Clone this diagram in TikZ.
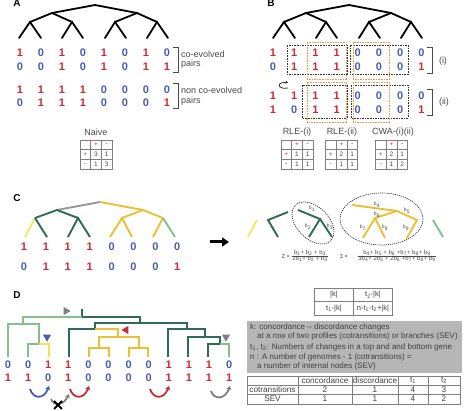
\documentclass[tikz,border=0pt]{standalone}
\usepackage{fontspec}
\setmainfont{Liberation Sans}
\usetikzlibrary{arrows.meta,shapes.geometric}

\definecolor{onered}{RGB}{208,42,52}
\definecolor{zeroblue}{RGB}{72,92,178}
\definecolor{darkgreen}{RGB}{46,108,88}
\definecolor{lightgreen}{RGB}{130,192,140}
\definecolor{treeyellow}{RGB}{234,192,52}
\definecolor{paleyellow}{RGB}{242,234,92}
\definecolor{boxorange}{RGB}{234,150,62}
\definecolor{notegray}{RGB}{182,182,182}
\definecolor{textgray}{RGB}{75,75,75}

% a 1 in red, a 0 in blue
\newcommand{\onezero}[1]{\ifnum#1=1 \textcolor{onered}{1}\else\textcolor{zeroblue}{0}\fi}
\newcommand{\redplus}{\textcolor{onered}{+}}
% one row of a profile: prefix, first x, step, y, values
\newcommand{\profilerow}[5]{%
  \foreach \v [count=\i] in {#5}
    \node[digit] (#1\i) at ({#2+(\i-1)*#3},#4) {\onezero{\v}};}
% table of signs: name, centre x, centre y, ++, +-, -+, --
\newcommand{\signtab}[7]{%
  \foreach \row/\col/\txt in {0/0/{},0/1/\redplus,0/2/-,1/0/\redplus,1/1/#4,1/2/#5,2/0/-,2/1/#6,2/2/#7}
    \node[cell] (#1\row\col) at ({#2+(\col-1)*10.7},{#3+(\row-1)*9.7}) {\txt};}

\begin{document}
\begin{tikzpicture}[x=1pt,y=-1pt,
  digit/.style={font=\fontsize{11}{11}\selectfont\bfseries,inner sep=0pt},
  note/.style={font=\fontsize{9}{9}\selectfont,text=textgray,inner sep=0pt},
  panel/.style={font=\fontsize{10}{10}\selectfont\bfseries,inner sep=0pt},
  blackbranch/.style={line width=1.8pt,line cap=round},
  branch/.style={line width=1.9pt},
  bracket/.style={line width=0.8pt,textgray},
  cell/.style={draw=gray,line width=0.6pt,minimum width=10.7pt,minimum height=9.7pt,
    inner sep=0pt,outer sep=0pt,font=\fontsize{6.5}{6.5}\selectfont,text=textgray},
  pairbox/.style={dash pattern=on 1.6pt off 1pt,line width=0.9pt},
  bname/.style={font=\fontsize{5}{5}\selectfont,text=textgray,inner sep=0pt},
  formula/.style={font=\fontsize{6}{6.5}\selectfont,text=textgray,inner sep=0pt},
  changemark/.style={isosceles triangle,isosceles triangle apex angle=60,inner sep=0pt,
    minimum height=7pt,draw=none},
  curl/.style={line width=1.8pt,-{Stealth[length=4pt,width=5pt]}},
  boxtext/.style={font=\fontsize{8}{8}\selectfont,text=black!75,anchor=west,inner sep=0pt},
  tabtext/.style={font=\fontsize{8.2}{8.2}\selectfont,text=black!75,inner sep=0pt},
  kcell/.style={draw=gray,line width=0.6pt,minimum width=39pt,minimum height=13.5pt,
    inner sep=0pt,outer sep=0pt,font=\fontsize{7.5}{7.5}\selectfont,text=black!75}]

\fill[white] (0,0) rectangle (467,411);
\useasboundingbox (0,0) rectangle (467,411);

% ---------------- A and B: the two black trees
\node[panel] (pa) at (17,3) {A};
\node[panel] (pb) at (271,3) {B};
\foreach \p/\s in {a/0,b/254}{
  \begin{scope}[xshift=\s]
    \coordinate (\p0) at (95,5);
    \coordinate (\p1) at (52,13);
    \coordinate (\p2) at (137,13);
    \coordinate (\p11) at (30,22);
    \coordinate (\p12) at (72,22);
    \coordinate (\p21) at (115,22);
    \coordinate (\p22) at (157,22);
    \foreach \x [count=\i] in {19,41,62,83,105,126,147,168}
      \coordinate (\p l\i) at (\x,38);
    \draw[blackbranch] (\p1) -- (\p0) -- (\p2);
    \draw[blackbranch] (\p11) -- (\p1) -- (\p12);
    \draw[blackbranch] (\p21) -- (\p2) -- (\p22);
    \draw[blackbranch] (\p l1) -- (\p11) -- (\p l2);
    \draw[blackbranch] (\p l3) -- (\p12) -- (\p l4);
    \draw[blackbranch] (\p l5) -- (\p21) -- (\p l6);
    \draw[blackbranch] (\p l7) -- (\p22) -- (\p l8);
  \end{scope}
}

% A: profiles
\profilerow{ar}{20}{21}{53}{1,0,1,0,1,0,1,0}
\profilerow{as}{20}{21}{67}{0,0,1,0,1,0,1,1}
\profilerow{at}{20}{21}{90}{1,1,1,1,0,0,0,0}
\profilerow{au}{20}{21}{103}{0,1,1,1,0,0,0,1}
\draw[bracket] (173,47) -- (178,47) -- (178,72) -- (173,72);
\draw[bracket] (173,83) -- (178,83) -- (178,108) -- (173,108);
\node[note,anchor=west] (coev) at (181,54) {co-evolved};
\node[note,anchor=west] (coevp) at (181,64) {pairs};
\node[note,anchor=west] (ncoev) at (181,90) {non co-evolved};
\node[note,anchor=west] (ncoevp) at (181,101) {pairs};

% B: profiles and boxes
\profilerow{br}{273}{21.2}{53}{1,1,1,1,0,0,0,0}
\profilerow{bs}{273}{21.2}{67}{0,1,1,1,0,0,0,1}
\profilerow{bt}{273}{21.2}{96}{1,1,1,1,0,0,0,0}
\profilerow{bu}{273}{21.2}{110}{1,0,1,1,0,0,0,1}
\draw[pairbox,black!80] (287,45) rectangle (347,74);
\draw[pairbox,black!80] (350,45) rectangle (408,74);
\draw[pairbox,black!80] (302,85) rectangle (347,118);
\draw[pairbox,black!80] (351,85) rectangle (408,118);
\draw[pairbox,boxorange] (307,42) rectangle (346,79);
\draw[pairbox,boxorange] (353,42) rectangle (389,79);
\draw[pairbox,boxorange] (307,82) rectangle (346,122);
\draw[pairbox,boxorange] (353,82) rectangle (389,122);
\draw[line width=0.8pt,black!80,-{Stealth[length=2.5pt,width=3pt]}] (288,88)
  arc[start angle=60,end angle=300,x radius=6,y radius=3];
\draw[bracket] (427,47) -- (432,47) -- (432,73) -- (427,73);
\draw[bracket] (427,89) -- (432,89) -- (432,115) -- (427,115);
\node[note] (bi) at (443,61) {(i)};
\node[note] (bii) at (444,102) {(ii)};

% tables
\node[note] (naive) at (96,132) {Naive};
\node[note] (rlei) at (297,132) {RLE-(i)};
\node[note] (rleii) at (342,132) {RLE-(ii)};
\node[note] (cwa) at (393,132) {CWA-(i)(ii)};
\signtab{tn}{96}{154.5}{3}{1}{1}{3}
\signtab{tr}{297}{154.5}{1}{1}{1}{1}
\signtab{ts}{341.5}{154.5}{2}{1}{1}{1}
\signtab{tc}{391.5}{154.5}{2}{1}{1}{2}

% ---------------- C
\node[panel] (pc) at (17,198) {C};
\coordinate (c0) at (100,202);
\coordinate (c1) at (57,210);
\coordinate (c2) at (143,210);
\coordinate (c11) at (35,218);
\coordinate (c12) at (78,218);
\coordinate (c21) at (122,218);
\coordinate (c22) at (163,218);
\foreach \x [count=\i] in {25,47,68,90,110,132,153,175}
  \coordinate (cl\i) at (\x,237);
\draw[branch,gray!80] (c0) -- (c1);
\draw[branch,treeyellow] (c0) -- (c2);
\draw[branch,darkgreen] (c11) -- (c1) -- (c12);
\draw[branch,paleyellow] (c11) -- (cl1);
\draw[branch,darkgreen] (c11) -- (cl2);
\draw[branch,darkgreen] (cl3) -- (c12) -- (cl4);
\draw[branch,treeyellow] (c21) -- (c2) -- (c22);
\draw[branch,treeyellow] (cl5) -- (c21) -- (cl6);
\draw[branch,treeyellow] (c22) -- (cl7);
\draw[branch,lightgreen] (c22) -- (cl8);
\profilerow{cr}{24}{21.9}{247}{1,1,1,1,0,0,0,0}
\profilerow{cs}{24}{21.9}{267}{0,1,1,1,0,0,0,1}

\coordinate (arrs) at (210,242);
\coordinate (arre) at (229,242);
\draw[line width=3pt,-{Triangle[length=7pt,width=9pt]}] (arrs) -- (arre);

% C: pieces of the tree
\coordinate (p1a) at (248,237);
\coordinate (p1b) at (257,220);
\draw[branch,paleyellow] (p1a) -- (p1b);
\coordinate (p2n) at (268,220);
\coordinate (p2a) at (288,212);
\coordinate (p2b) at (278,237);
\draw[branch,darkgreen] (p2a) -- (p2n) -- (p2b);
\coordinate (q0) at (298,210);
\coordinate (q1) at (320,219);
\coordinate (q2) at (309,237);
\coordinate (q3) at (332,237);
\draw[branch,darkgreen] (q0) -- (q1) -- (q2);
\draw[branch,darkgreen] (q1) -- (q3);
\node[bname] (b1) at (312,209) {b\textsubscript{1}};
\node[bname] (b2) at (308,227) {b\textsubscript{2}};
\node[bname] (b3) at (330,227) {b\textsubscript{3}};
\draw[dash pattern=on 1.2pt off 0.9pt,line width=0.7pt,black!75] (313,223)
  ellipse[x radius=25,y radius=16,rotate=-45];
\coordinate (y0) at (352,205);
\coordinate (y1) at (397,211);
\coordinate (y2) at (375,218);
\coordinate (y3) at (417,220);
\coordinate (y4) at (363,238);
\coordinate (y5) at (385,238);
\coordinate (y6) at (407,238);
\draw[branch,treeyellow] (y0) -- (y1) -- (y3) -- (y6);
\draw[branch,treeyellow] (y1) -- (y2) -- (y4);
\draw[branch,treeyellow] (y2) -- (y5);
\node[bname] (b4) at (377,205) {b\textsubscript{4}};
\node[bname] (b5) at (407,211) {b\textsubscript{5}};
\node[bname] (b6) at (377,215) {b\textsubscript{6}};
\node[bname] (b7) at (363,228) {b\textsubscript{7}};
\node[bname] (b8) at (385,228) {b\textsubscript{8}};
\node[bname] (b9) at (406,228) {b\textsubscript{9}};
\draw[dash pattern=on 1.2pt off 0.9pt,line width=0.7pt,black!75] (381.5,219)
  ellipse[x radius=41.5,y radius=26];
\coordinate (p3a) at (433,220);
\coordinate (p3b) at (443,237);
\draw[branch,lightgreen] (p3a) -- (p3b);

\node[formula] (two) at (286,256) {2 ×};
\node[formula] (frac1) at (310,256) {\renewcommand{\arraystretch}{0.85}%
  \begin{tabular}{@{}c@{}}b\textsubscript{1}+ b\textsubscript{2} + b\textsubscript{3}\\\hline
  2b\textsubscript{1}+ b\textsubscript{2} + b\textsubscript{3}\end{tabular}};
\node[formula] (three) at (344,256) {3 ×};
\node[formula] (frac2) at (397,256) {\renewcommand{\arraystretch}{0.85}%
  \begin{tabular}{@{}c@{}}b\textsubscript{4}+ b\textsubscript{5} + b\textsubscript{6} +b\textsubscript{7}+ b\textsubscript{8}+ b\textsubscript{9}\\\hline
  3b\textsubscript{4}+ 2b\textsubscript{5} + 2b\textsubscript{6} +b\textsubscript{7}+ b\textsubscript{8}+ b\textsubscript{9}\end{tabular}};

% ---------------- D
\node[panel] (pd) at (17,295) {D};
\coordinate (dtop) at (82,309);
\coordinate (dr) at (82,317);
\coordinate (dA) at (23,324);
\coordinate (dA2) at (39,344);
\coordinate (dB) at (140,323);
\coordinate (dB1) at (95,329);
\coordinate (dY) at (118,337);
\coordinate (dY1) at (99,348);
\coordinate (dY2) at (139,348);
\coordinate (dC) at (187,329);
\coordinate (dC1) at (205,337);
\coordinate (dC2) at (220,344);
\foreach \x [count=\i] in {8,28,49,69,89,109,129,148,168,188,208,229}
  \coordinate (dl\i) at (\x,357);
\draw[branch,darkgreen] (dtop) -- (dr);
\draw[branch,lightgreen] (dr) -| (dA);
\draw[branch,lightgreen] (dA) -| (dl1);
\draw[branch,lightgreen] (dA) -| (dA2);
\draw[branch,lightgreen] (dA2) -| (dl2);
\draw[branch,paleyellow!80!treeyellow] (dA2) -| (dl3);
\draw[branch,darkgreen] (dr) -| (dB);
\draw[branch,darkgreen] (dB) -| (dB1);
\draw[branch,darkgreen] (dB1) -| (dl4);
\draw[branch,treeyellow] (dB1) -| (dY);
\draw[branch,treeyellow] (dY) -| (dY1);
\draw[branch,treeyellow] (dY) -| (dY2);
\draw[branch,treeyellow] (dY1) -| (dl5);
\draw[branch,treeyellow] (dY1) -| (dl6);
\draw[branch,treeyellow] (dY2) -| (dl7);
\draw[branch,treeyellow] (dY2) -| (dl8);
\draw[branch,darkgreen] (dB) -| (dC);
\draw[branch,darkgreen] (dC) -| (dl9);
\draw[branch,darkgreen] (dC) -| (dC1);
\draw[branch,darkgreen] (dC1) -| (dl10);
\draw[branch,darkgreen] (dC1) -| (dC2);
\draw[branch,darkgreen] (dC2) -| (dl11);
\draw[branch,lightgreen] (dC2) -| (dl12);
\profilerow{dr}{8}{20.1}{365}{0,0,1,1,0,0,0,0,1,1,1,0}
\profilerow{ds}{8}{20.1}{378}{1,1,0,1,0,0,0,0,1,1,1,1}

\node[changemark,fill=gray,shape border rotate=-45] (mk1) at (66,311) {};
\node[changemark,fill=zeroblue,shape border rotate=-135] (mk2) at (47,337) {};
\node[changemark,fill=onered,shape border rotate=180] (mk3) at (126,330) {};
\node[changemark,fill=gray,shape border rotate=-135] (mk4) at (226,337) {};

\coordinate (u1a) at (30,389);
\coordinate (u1b) at (49,386);
\draw[curl,zeroblue] (u1a) .. controls (33,399) and (44,400) .. (u1b);
\coordinate (u2a) at (70,389);
\coordinate (u2b) at (89,386);
\draw[curl,onered] (u2a) .. controls (73,399) and (84,400) .. (u2b);
\coordinate (u3a) at (150,389);
\coordinate (u3b) at (169,386);
\draw[curl,onered] (u3a) .. controls (153,399) and (164,400) .. (u3b);
\coordinate (u4a) at (211,391);
\coordinate (u4b) at (230,386);
\draw[curl,gray] (u4a) .. controls (214,400) and (225,400) .. (u4b);
\coordinate (u5a) at (51,399);
\coordinate (u5b) at (69,394);
\draw[curl,gray] (u5a) .. controls (54,407) and (64,405) .. (u5b);
\coordinate (xa) at (54,401);
\coordinate (xb) at (62,409);
\coordinate (xc) at (62,401);
\coordinate (xd) at (54,409);
\draw[line width=2pt] (xa) -- (xb);
\draw[line width=2pt] (xc) -- (xd);

% D: definitions
\node[kcell] (k11) at (334,295) {|k|};
\node[kcell] (k12) at (373,295) {t\textsubscript{2}-|k|};
\node[kcell] (k21) at (334,308.5) {t\textsubscript{1}-|k|};
\node[kcell] (k22) at (373,308.5) {n-t\textsubscript{1}-t\textsubscript{2}+|k|};

\fill[notegray] (247,321) rectangle (462,373);
\node[boxtext] (kdef) at (250,327) {k: concordance – discordance changes};
\node[boxtext] (kdef2) at (257,336) {at a row of two profiles (cotransitions) or branches (SEV)};
\node[boxtext] (tdef) at (250,347) {t\textsubscript{1}, t\textsubscript{2}: Numbers of changes in a top and and bottom gene};
\node[boxtext] (ndef) at (250,357) {n : A number of genomes - 1 (cotransitions) =};
\node[boxtext] (ndef2) at (257,366) {a number of internal nodes (SEV)};

\draw[gray,line width=0.6pt] (247,376) rectangle (460,404);
\draw[gray,line width=0.6pt] (247,385) -- (460,385);
\draw[gray,line width=0.6pt] (247,394) -- (460,394);
\foreach \x in {298,352,398,428}
  \draw[gray,line width=0.6pt] (\x,376) -- (\x,404);
\foreach \txt/\x in {concordance/325,discordance/375,t\textsubscript{1}/413,t\textsubscript{2}/444}
  \node[tabtext] (h\x) at (\x,380.5) {\txt};
\foreach \txt/\x in {cotransitions/272.5,2/325,1/375,4/413,3/444}
  \node[tabtext] (c\x) at (\x,389.5) {\txt};
\foreach \txt/\x in {SEV/272.5,1/325,1/375,4/413,2/444}
  \node[tabtext] (s\x) at (\x,399) {\txt};

\end{tikzpicture}
\end{document}
